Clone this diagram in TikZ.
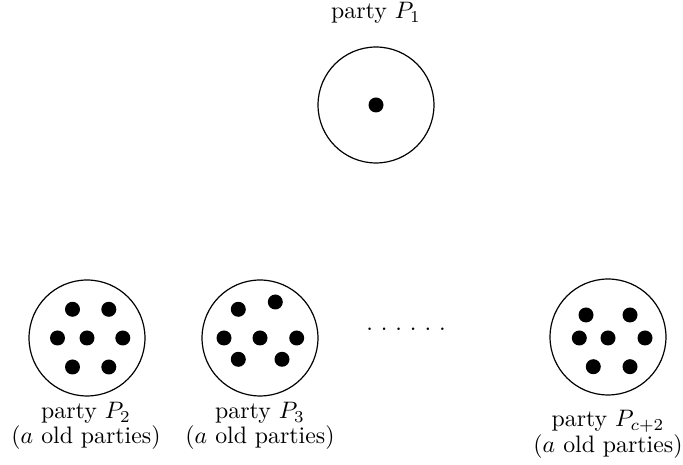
\documentclass[tikz,border=0pt]{standalone}
\usepackage{tikz}
\tikzset{
    party_circle/.style={circle, draw=black, line width=0.5pt, minimum size=48.7pt, inner sep=0pt},
    member/.style={circle, fill=black, minimum size=6.3pt, inner sep=0pt},
    party_label/.style={align=center, anchor=base, font=\fontsize{10}{9}\selectfont}
}
\begin{document}
\begin{tikzpicture}[x=4.2pt, y=4.2pt]
    \useasboundingbox (0,0) rectangle (68.3,46.5);
    % party P1 (single member)
    \node[party_circle] (P1) at (37.6, 36.0) {};
    \node[member] (P1-1) at (P1) {};
    \node[party_label] (labP1) at (37.6, 44.6) {party $P_1$};
    % party P2
    \node[party_circle] (P2) at (8.7, 12.7) {};
    \foreach \dx/\dy [count=\n] in {-1.45/2.87, 2.18/2.87, -2.95/0, 0/0, 3.58/0, -1.45/-2.9, 2.18/-2.9}
        \node[member] (P2-\n) at ([shift={(\dx,\dy)}]P2) {};
    \node[party_label] (labP2) at (8.6, 2.1) {party $P_2$\\($a$ old parties)};
    % party P3
    \node[party_circle] (P3) at (26.0, 12.7) {};
    \foreach \dx/\dy [count=\n] in {-2.17/2.87, 1.53/3.6, -3.6/0, 0/0, 3.67/0, -2.17/-2.13, 2.2/-2.13}
        \node[member] (P3-\n) at ([shift={(\dx,\dy)}]P3) {};
    \node[party_label] (labP3) at (26.0, 2.1) {party $P_3$\\($a$ old parties)};
    % gap
    \node[anchor=base, font=\frenchspacing] (gap) at (40.6, 13.45) {. . . . . .};
    % party P_{c+2}
    \node[party_circle] (Pc) at (60.8, 12.8) {};
    \foreach \dx/\dy [count=\n] in {-2.2/2.2, 2.2/2.2, -2.87/-0.1, 0/-0.1, 3.7/-0.1, -1.47/-2.97, 2.2/-2.97}
        \node[member] (Pc-\n) at ([shift={(\dx,\dy)}]Pc) {};
    \node[party_label] (labPc) at (60.8, 1.25) {party $P_{c+2}$\\($a$ old parties)};
\end{tikzpicture}
\end{document}
